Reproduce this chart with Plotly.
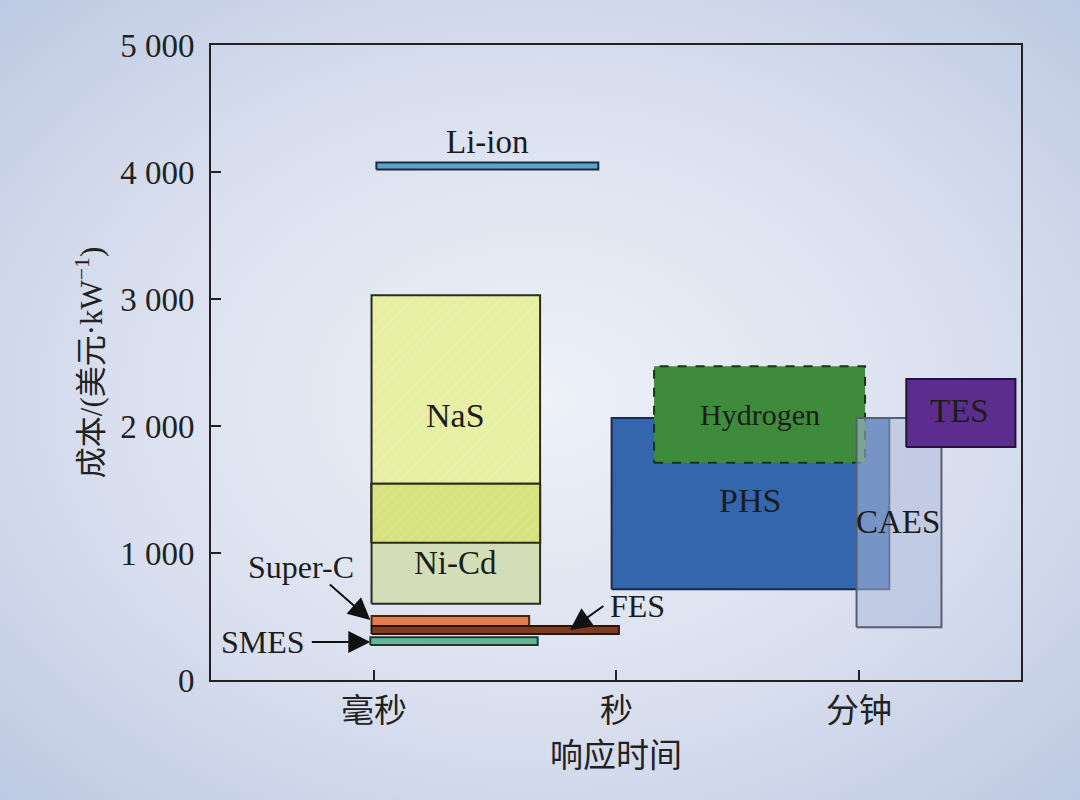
import base64

import plotly.graph_objects as go

# response-time categories on the x axis (positions 1, 2, 3)
categories = ["毫秒", "秒", "分钟"]
cat_pos = [1, 2, 3]

# storage technologies: response-time span (axis units) and cost span (USD/kW)
techs = ["Li-ion", "NaS", "Ni-Cd", "Super-C", "FES", "SMES", "PHS", "Hydrogen", "CAES", "TES"]
time_lo = [1.01, 0.99, 0.99, 0.99, 0.99, 0.985, 1.98, 2.155, 2.99, 3.195]
time_hi = [1.925, 1.685, 1.685, 1.64, 2.01, 1.675, 3.125, 3.025, 3.34, 3.645]
cost_lo = [4020, 1080, 600, 425, 362, 276, 715, 1710, 415, 1835]
cost_hi = [4075, 3030, 1545, 504, 425, 336, 2063, 2470, 2063, 2370]

y_ticks = [0, 1000, 2000, 3000, 4000, 5000]
y_ticktext = ["0", "1 000", "2 000", "3 000", "4 000", "5 000"]

FONT = "Liberation Serif, Times New Roman, Noto Sans CJK SC, serif"

style = {
    "Li-ion": dict(fill="#5BA4D2", line="#1e2a38"),
    "NaS": dict(fill="#E7EFA3", line="#2b2b20"),
    "Ni-Cd": dict(fill="#D3DDB7", line="#2b2b20"),
    "Super-C": dict(fill="#E27C50", line="#4a2410"),
    "FES": dict(fill="#7C3C22", line="#2e1408"),
    "SMES": dict(fill="#63B796", line="#1c3a2c"),
    "PHS": dict(fill="#3466AD", line="#1a2a4c"),
    "Hydrogen": dict(fill="#3E8C3B", line="#173417", dash="dash"),
    "CAES": dict(fill="rgba(175,185,218,0.55)", line="#575d72"),
    "TES": dict(fill="#5C2D8E", line="#241238"),
}


def rect(x0, x1, y0, y1, fill, line, dash="solid", pattern=None, width=2):
    return go.Scatter(
        x=[x0, x1, x1, x0, x0], y=[y0, y0, y1, y1, y0],
        mode="lines", fill="toself", fillcolor=fill,
        fillpattern=pattern,
        line=dict(color=line, width=width, dash=dash),
        hoverinfo="skip", showlegend=False,
    )


idx = {t: i for i, t in enumerate(techs)}
fig = go.Figure()

hatch = dict(shape="/", fgcolor="rgba(255,255,255,0.4)", bgcolor=style["NaS"]["fill"],
             size=7, solidity=0.15)
hatch2 = dict(shape="/", fgcolor="rgba(255,255,255,0.3)", bgcolor="#D6E27D",
              size=7, solidity=0.15)

order = ["Li-ion", "NaS", "Ni-Cd", "Super-C", "FES", "SMES", "PHS", "Hydrogen", "CAES", "TES"]
for t in order:
    i = idx[t]
    s = style[t]
    pat = hatch if t == "NaS" else None
    fig.add_trace(rect(time_lo[i], time_hi[i], cost_lo[i], cost_hi[i], s["fill"], s["line"],
                       dash=s.get("dash", "solid"), pattern=pat))
    if t == "Ni-Cd":
        # overlap of NaS and Ni-Cd
        n = idx["NaS"]
        fig.add_trace(rect(time_lo[n], time_hi[n], cost_lo[n], cost_hi[i], "#D6E27D",
                           style["NaS"]["line"], pattern=hatch2))

# in-box labels
labels = {
    "Li-ion": (1.466, 4236, 33),
    "NaS": (1.338, 2079, 34),
    "Ni-Cd": (1.338, 921, 33),
    "PHS": (2.551, 1417, 34),
    "Hydrogen": (2.592, 2094, 30),
    "CAES": (3.161, 1244, 33),
    "TES": (3.416, 2118, 33),
    "Super-C": (0.699, 890, 32),
    "FES": (2.085, 583, 32),
    "SMES": (0.542, 299, 32),
}
for t, (lx, ly, fs) in labels.items():
    fig.add_annotation(x=lx, y=ly, text=t, showarrow=False,
                       font=dict(family=FONT, size=fs, color="#1c1c1c"))

# pointer arrows for the thin bars
arrows = [
    (0.985, 472, -42, -37),
    (1.808, 394, 35, -25),
    (0.985, 299, -60, 0),
]
for ax_x, ax_y, dx, dy in arrows:
    fig.add_annotation(x=ax_x, y=ax_y, ax=dx, ay=dy, text="", showarrow=True,
                       arrowhead=2, arrowsize=2.2, arrowwidth=2, arrowcolor="#111")

# light radial gradient background
svg = (
    '<svg xmlns="http://www.w3.org/2000/svg" width="1080" height="800" viewBox="0 0 1080 800">'
    '<defs><radialGradient id="g" cx="0.5" cy="0.5" r="0.7">'
    '<stop offset="0" stop-color="#EEF1F8"/><stop offset="0.55" stop-color="#DAE0EF"/>'
    '<stop offset="1" stop-color="#BECAE3"/></radialGradient></defs>'
    '<rect width="1080" height="800" fill="url(#g)"/></svg>'
)
bg = "data:image/svg+xml;base64," + base64.b64encode(svg.encode()).decode()
pw, ph = 1080 - 211 - 59, 800 - 45 - 120
fig.add_layout_image(
    source=bg, xref="paper", yref="paper",
    x=-211 / pw, y=1 + 45 / ph, sizex=1080 / pw, sizey=800 / ph,
    sizing="stretch", xanchor="left", yanchor="top", layer="below",
)

axis_common = dict(
    showline=True, linecolor="#222", linewidth=2, mirror=True,
    ticks="inside", ticklen=10, tickwidth=2, tickcolor="#222",
    showgrid=False, zeroline=False,
    tickfont=dict(family=FONT, size=33, color="#222"),
)

fig.update_layout(
    width=1080, height=800,
    margin=dict(l=211, r=59, t=45, b=120),
    paper_bgcolor="#D5DCEC", plot_bgcolor="rgba(0,0,0,0)",
    xaxis=dict(
        range=[0.328, 3.668], tickvals=cat_pos, ticktext=categories,
        title=dict(text="响应时间", font=dict(family=FONT, size=33, color="#222"), standoff=16),
        **axis_common,
    ),
    yaxis=dict(
        range=[0, 5000], tickvals=y_ticks, ticktext=y_ticktext,
        ticklabelstandoff=8,
        title=dict(text="成本/(美元·kW<sup>−1</sup>)", font=dict(family=FONT, size=31, color="#222"),
                   standoff=8),
        **axis_common,
    ),
)

fig.write_html("out.html", config={"displayModeBar": False},
               post_script="document.body.style.margin='0';")
